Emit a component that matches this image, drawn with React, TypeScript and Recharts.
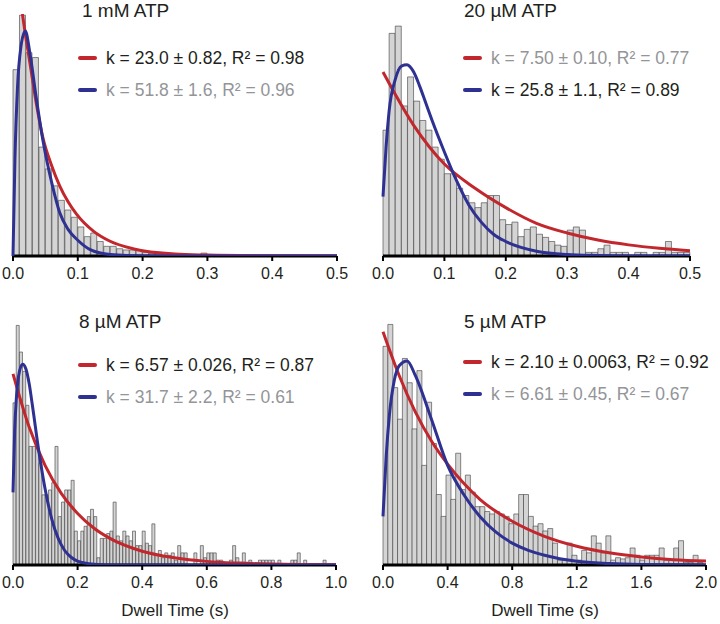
import React from 'react';
import { ComposedChart, LineChart, Bar, Line, XAxis, YAxis } from 'recharts';

// histogram heights, % of the y-axis height, one value per bin
const COUNTS_1MM = [
  77, 99.5, 84, 82, 45, 36, 29, 23, 19, 16,
  12, 8, 9.5, 6, 4, 4, 3, 2.5, 2.5, 2.5,
  1.5, 1, 1.5, 1, 0.5, 1, 0.5, 0.5, 0.3, 1.2,
  0.3, 0.5, 0.5, 0, 0, 0, 0, 0, 0, 0,
  0, 0, 0, 0, 0, 0, 0, 0, 0, 0,
];
const COUNTS_20UM = [
  52, 92, 95, 62, 74, 64, 56, 52, 45, 40,
  34, 34, 28, 25, 22, 20, 22, 25, 25, 15,
  13, 14, 8, 11, 12, 9, 7.7, 6, 4.5, 4,
  10.7, 12, 10.7, 1.5, 1.5, 3, 4.5, 1.5, 1.5, 1.5,
  0, 1.5, 1.5, 0, 1.5, 1.5, 6, 1.5, 1.5, 1.5,
];
const COUNTS_8UM = [
  67, 99, 88, 80, 66, 49, 49, 49, 42, 29,
  29, 31, 34, 49, 20, 26, 31, 31, 35, 14,
  10, 14, 16, 20, 23, 20, 3, 11, 11, 13,
  14, 26, 12, 10, 14, 12, 10, 14, 8, 8,
  14, 9, 8, 17, 4, 6, 3, 5, 4, 5,
  2, 8, 5, 5, 0, 0, 5, 0, 8, 3,
  5, 5, 5, 2, 2, 0, 0, 2, 8, 3,
  0, 5, 0, 2, 0, 0, 2, 2, 2, 2,
  2, 0, 2, 0, 0, 0, 2, 2, 5, 0,
  2, 0, 0, 0, 0, 0, 2, 0, 0, 0,
];
const COUNTS_5UM = [
  90, 99, 73, 60, 85, 75, 56, 80, 41, 67,
  50, 29, 20, 37, 27, 46, 31, 37, 30, 24,
  24, 22, 21, 22, 21, 20, 17, 21, 29, 29,
  20, 16, 17, 14, 15, 9, 2, 2, 9, 4,
  2, 6, 5, 12, 9, 5, 12, 2, 3, 2.5,
  3, 7, 4, 2, 4, 4, 4, 7, 2, 2,
  7, 10, 1, 1, 4, 1,
];

// fit curves, [dwell time, height]
const SINGLE_1MM = [
  [0.0145, 100], [0.02, 90], [0.026, 80], [0.036, 63], [0.046, 49], [0.059, 37.8],
  [0.072, 29], [0.085, 22.4], [0.098, 17.3], [0.124, 10.3], [0.149, 6.2], [0.185, 3],
  [0.25, 0.8], [0.3, 0.4], [0.4, 0.1], [0.5, 0],
];
const DOUBLE_1MM = [
  [0, 0], [0.003, 40], [0.007, 70], [0.012, 86], [0.019, 93], [0.026, 84],
  [0.035, 67], [0.046, 48], [0.06, 30], [0.072, 18], [0.085, 11], [0.1, 6.5],
  [0.12, 2.5], [0.15, 0.6], [0.2, 0], [0.5, 0],
];
const SINGLE_20UM = [
  [0, 76], [0.05, 54], [0.1, 38], [0.15, 28], [0.2, 20], [0.25, 13.5],
  [0.3, 9.5], [0.35, 6.6], [0.4, 4.6], [0.45, 3.2], [0.5, 2.2],
];
const DOUBLE_20UM = [
  [0, 24.5], [0.005, 45], [0.01, 60], [0.02, 73], [0.03, 78.5], [0.039, 79],
  [0.05, 76], [0.06, 70], [0.07, 63], [0.08, 56], [0.1, 43], [0.12, 31],
  [0.14, 21], [0.16, 14], [0.18, 9], [0.2, 6], [0.25, 2], [0.3, 0.6],
  [0.35, 0.2], [0.4, 0], [0.5, 0],
];
const SINGLE_8UM = [
  [0, 79], [0.05, 57], [0.1, 41], [0.15, 29.5], [0.2, 21.3], [0.25, 15.3],
  [0.3, 11], [0.4, 5.7], [0.5, 3], [0.6, 1.5], [0.7, 0.8], [0.8, 0.4], [1.0, 0.1],
];
const DOUBLE_8UM = [
  [0, 30], [0.005, 55], [0.01, 68], [0.02, 80], [0.03, 83], [0.04, 81],
  [0.05, 75], [0.06, 66], [0.08, 47], [0.1, 31], [0.12, 19], [0.14, 11],
  [0.16, 6], [0.18, 3.2], [0.2, 1.6], [0.25, 0.3], [0.3, 0], [1.0, 0],
];
const SINGLE_5UM = [
  [0, 96], [0.1, 78], [0.2, 63], [0.3, 51], [0.4, 41.5], [0.5, 33.6],
  [0.6, 27], [0.8, 18], [1.0, 11.8], [1.2, 7.7], [1.4, 5], [1.6, 3.3],
  [1.8, 2.2], [2.0, 1.6],
];
const DOUBLE_5UM = [
  [0, 20], [0.02, 45], [0.04, 62], [0.07, 76], [0.1, 82], [0.15, 84],
  [0.2, 78], [0.3, 60], [0.4, 41], [0.5, 29], [0.6, 20], [0.7, 13.5],
  [0.8, 9], [0.9, 6], [1.0, 4], [1.2, 1.5], [1.4, 0.6], [1.6, 0.2], [2.0, 0],
];

const TICKS_HALF = [0, 0.1, 0.2, 0.3, 0.4, 0.5];
const TICKS_ONE = [0, 0.2, 0.4, 0.6, 0.8, 1.0];
const TICKS_TWO = [0, 0.4, 0.8, 1.2, 1.6, 2.0];

const RED = '#c1272d';
const BLUE = '#2e3192';
const DARK = '#231f20';
const GREY = '#939598';
const FONT = '"Liberation Sans", Arial, Helvetica, sans-serif';

const W = 360;
const H = 300;
const X_AXIS_H = 30;

interface PanelProps {
  title: string;
  left: number;
  top: number;
  margin: { top: number; right: number; left: number; bottom: number };
  titleX: number;
  titleY: number;
  legendX: number;
  legendY: number;
  xMax: number;
  ticks: number[];
  binWidth: number;
  counts: number[];
  single: number[][];
  double: number[][];
  singleLabel: string;
  doubleLabel: string;
  best: 'single' | 'double';
}

function LegendRow({ color, label, dark }: { color: string; label: string; dark: boolean }) {
  return (
    <div style={{ display: 'flex', alignItems: 'center', height: 20, marginBottom: 12 }}>
      <div style={{ width: 19, height: 3.5, borderRadius: 2, background: color, marginRight: 9 }} />
      <span style={{ fontSize: 17.5, lineHeight: '20px', color: dark ? DARK : GREY, whiteSpace: 'nowrap' }}>
        {label}
      </span>
    </div>
  );
}

function Panel(p: PanelProps) {
  const data = p.counts.map((c, i) => ({ x: (i + 0.5) * p.binWidth, count: c }));
  const single = p.single.map(([x, y]) => ({ x, y }));
  const double = p.double.map(([x, y]) => ({ x, y }));
  // the curve layer has hidden axes, so it needs the x-axis height in its bottom margin
  const curveMargin = { ...p.margin, bottom: p.margin.bottom + X_AXIS_H };

  return (
    <div style={{ position: 'absolute', left: p.left, top: p.top, width: W, height: H }}>
      <ComposedChart width={W} height={H} data={data} margin={p.margin} barCategoryGap={0} barGap={0}>
        <XAxis
          dataKey="x"
          type="number"
          domain={[0, p.xMax]}
          ticks={p.ticks}
          interval={0}
          height={X_AXIS_H}
          tickFormatter={(v: number) => v.toFixed(1)}
          tick={{ fill: DARK, fontSize: 16, fontFamily: FONT }}
          tickSize={5}
          tickMargin={7}
          tickLine={{ stroke: '#000', strokeWidth: 2 }}
          axisLine={{ stroke: '#000', strokeWidth: 3 }}
        />
        <YAxis
          type="number"
          domain={[0, 100]}
          allowDataOverflow
          width={0}
          tick={false}
          tickLine={false}
          axisLine={{ stroke: '#000', strokeWidth: 3 }}
        />
        <Bar
          dataKey="count"
          fill="#d4d4d4"
          stroke="#3c3c3c"
          strokeWidth={0.6}
          isAnimationActive={false}
        />
      </ComposedChart>
      <div style={{ position: 'absolute', left: 0, top: 0, pointerEvents: 'none' }}>
        <LineChart width={W} height={H} margin={curveMargin}>
          <XAxis dataKey="x" type="number" domain={[0, p.xMax]} hide />
          <YAxis type="number" domain={[0, 100]} allowDataOverflow hide />
          <Line
            data={single}
            dataKey="y"
            type="monotone"
            stroke={RED}
            strokeWidth={3}
            dot={false}
            activeDot={false}
            isAnimationActive={false}
          />
          <Line
            data={double}
            dataKey="y"
            type="monotone"
            stroke={BLUE}
            strokeWidth={3}
            dot={false}
            activeDot={false}
            isAnimationActive={false}
          />
        </LineChart>
      </div>
      <div
        style={{
          position: 'absolute',
          left: p.titleX,
          top: p.titleY,
          fontSize: 19,
          lineHeight: '19px',
          color: DARK,
          whiteSpace: 'nowrap',
        }}
      >
        {p.title}
      </div>
      <div style={{ position: 'absolute', left: p.legendX, top: p.legendY }}>
        <LegendRow color={RED} label={p.singleLabel} dark={p.best === 'single'} />
        <LegendRow color={BLUE} label={p.doubleLabel} dark={p.best === 'double'} />
      </div>
    </div>
  );
}

export default function App() {
  return (
    <div
      style={{
        position: 'absolute',
        left: 0,
        top: 0,
        width: 720,
        height: 624,
        background: '#fff',
        fontFamily: FONT,
      }}
    >
      <Panel
        title="1 mM ATP"
        left={0}
        top={0}
        margin={{ top: 14, right: 23, left: 13, bottom: 14 }}
        titleX={82}
        titleY={1}
        legendX={78}
        legendY={48}
        xMax={0.5}
        ticks={TICKS_HALF}
        binWidth={0.01}
        counts={COUNTS_1MM}
        single={SINGLE_1MM}
        double={DOUBLE_1MM}
        singleLabel="k = 23.0 ± 0.82, R² = 0.98"
        doubleLabel="k = 51.8 ± 1.6, R² = 0.96"
        best="single"
      />
      <Panel
        title="20 µM ATP"
        left={360}
        top={0}
        margin={{ top: 14, right: 30, left: 23, bottom: 14 }}
        titleX={104}
        titleY={1}
        legendX={103}
        legendY={48}
        xMax={0.5}
        ticks={TICKS_HALF}
        binWidth={0.01}
        counts={COUNTS_20UM}
        single={SINGLE_20UM}
        double={DOUBLE_20UM}
        singleLabel="k = 7.50 ± 0.10, R² = 0.77"
        doubleLabel="k = 25.8 ± 1.1, R² = 0.89"
        best="double"
      />
      <Panel
        title="8 µM ATP"
        left={0}
        top={309}
        margin={{ top: 14, right: 24, left: 13, bottom: 14 }}
        titleX={79}
        titleY={3}
        legendX={78}
        legendY={46}
        xMax={1.0}
        ticks={TICKS_ONE}
        binWidth={0.01}
        counts={COUNTS_8UM}
        single={SINGLE_8UM}
        double={DOUBLE_8UM}
        singleLabel="k = 6.57 ± 0.026, R² = 0.87"
        doubleLabel="k = 31.7 ± 2.2, R² = 0.61"
        best="single"
      />
      <Panel
        title="5 µM ATP"
        left={360}
        top={309}
        margin={{ top: 13, right: 14, left: 23, bottom: 14 }}
        titleX={104}
        titleY={3}
        legendX={103}
        legendY={43}
        xMax={2.0}
        ticks={TICKS_TWO}
        binWidth={0.03}
        counts={COUNTS_5UM}
        single={SINGLE_5UM}
        double={DOUBLE_5UM}
        singleLabel="k = 2.10 ± 0.0063, R² = 0.92"
        doubleLabel="k = 6.61 ± 0.45, R² = 0.67"
        best="single"
      />
      <div style={{ position: 'absolute', left: 0, width: 350, top: 601, textAlign: 'center', fontSize: 17, lineHeight: '20px', color: DARK }}>
        Dwell Time (s)
      </div>
      <div style={{ position: 'absolute', left: 370, width: 350, top: 601, textAlign: 'center', fontSize: 17, lineHeight: '20px', color: DARK }}>
        Dwell Time (s)
      </div>
    </div>
  );
}
